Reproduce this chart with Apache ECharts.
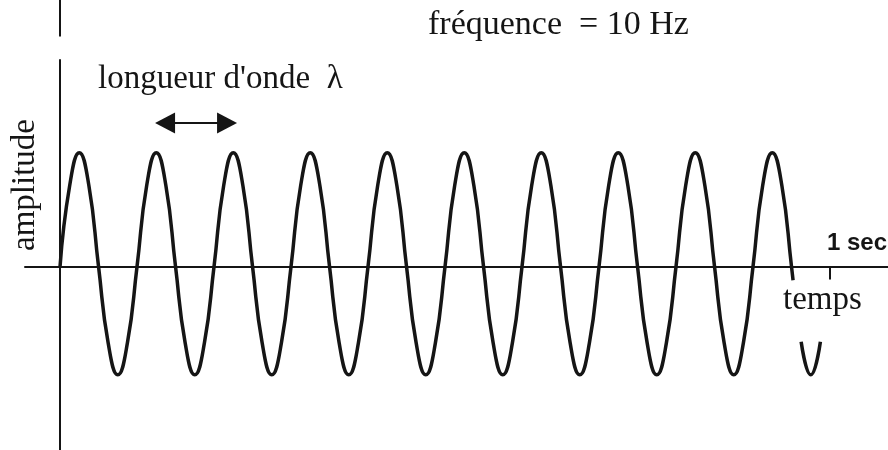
<!DOCTYPE html>
<html>
<head>
<meta charset="utf-8">
<script src="https://cdn.jsdelivr.net/npm/echarts@6/dist/echarts.min.js"></script>
<style>
  html, body { margin: 0; padding: 0; background: #fff; }
  #chart_wave { width: 888px; height: 450px; }
</style>
</head>
<body>
<div id="chart_wave"></div>
<script>
// temps (s), every 1/8 period (10 Hz)
var waveTime = [
  0, 0.0125, 0.025, 0.0375, 0.05, 0.0625, 0.075, 0.0875,
  0.1, 0.1125, 0.125, 0.1375, 0.15, 0.1625, 0.175, 0.1875,
  0.2, 0.2125, 0.225, 0.2375, 0.25, 0.2625, 0.275, 0.2875,
  0.3, 0.3125, 0.325, 0.3375, 0.35, 0.3625, 0.375, 0.3875,
  0.4, 0.4125, 0.425, 0.4375, 0.45, 0.4625, 0.475, 0.4875,
  0.5, 0.5125, 0.525, 0.5375, 0.55, 0.5625, 0.575, 0.5875,
  0.6, 0.6125, 0.625, 0.6375, 0.65, 0.6625, 0.675, 0.6875,
  0.7, 0.7125, 0.725, 0.7375, 0.75, 0.7625, 0.775, 0.7875,
  0.8, 0.8125, 0.825, 0.8375, 0.85, 0.8625, 0.875, 0.8875,
  0.9, 0.9125, 0.925, 0.9375, 0.95, 0.952
];
// amplitude at those times
var waveAmp = [
  0, 0.71, 1, 0.71, 0, -0.67, -0.95, -0.67,
  0, 0.71, 1, 0.71, 0, -0.67, -0.95, -0.67,
  0, 0.71, 1, 0.71, 0, -0.67, -0.95, -0.67,
  0, 0.71, 1, 0.71, 0, -0.67, -0.95, -0.67,
  0, 0.71, 1, 0.71, 0, -0.67, -0.95, -0.67,
  0, 0.71, 1, 0.71, 0, -0.67, -0.95, -0.67,
  0, 0.71, 1, 0.71, 0, -0.67, -0.95, -0.67,
  0, 0.71, 1, 0.71, 0, -0.67, -0.95, -0.67,
  0, 0.71, 1, 0.71, 0, -0.67, -0.95, -0.67,
  0, 0.71, 1, 0.71, 0, -0.12
];
// bottom of the last trough, the part left below "temps"
var tailTime = [0.9625, 0.975, 0.9875];
var tailAmp = [-0.66, -0.95, -0.66];
// wavelength arrow: from one crest to the next
var arrowTime = [0.1364, 0.2169];
var arrowAmp = 1.261;
var xTicks = [1];

var ink = '#151515';
var serif = '"Liberation Serif", "DejaVu Serif", serif';

function pairs(xs, ys) {
  var out = [];
  for (var i = 0; i < xs.length; i++) out.push([xs[i], ys[i]]);
  return out;
}

var myChart = echarts.init(document.getElementById('chart_wave'));
var option = {
  animation: false,
  backgroundColor: '#fff',
  grid: { left: 25, right: 0, top: 0, bottom: 0, containLabel: false, outerBoundsMode: 'none' },
  xAxis: {
    type: 'value',
    min: -0.0455,
    max: 1.0753,
    axisLine: { show: true, onZero: true, lineStyle: { color: ink, width: 2 } },
    axisTick: { show: true, customValues: xTicks, length: 13, lineStyle: { color: ink, width: 2 } },
    axisLabel: { show: false },
    splitLine: { show: false }
  },
  yAxis: {
    type: 'value',
    min: -1.61,
    max: 2.34,
    axisLine: { show: false },
    axisTick: { show: false },
    axisLabel: { show: false },
    splitLine: { show: false }
  },
  graphic: [
    { type: 'text', left: 428, top: 8, style: { text: 'fréquence  = 10 Hz', font: '34px ' + serif, fill: ink } },
    { type: 'text', left: 98, top: 63, style: { text: "longueur d'onde  λ", font: '33px ' + serif, fill: ink } },
    { type: 'text', left: 783, top: 284, style: { text: 'temps', font: '33px ' + serif, fill: ink } },
    { type: 'text', left: 827, top: 231, style: { text: '1 sec', font: 'bold 24px "Liberation Sans", Arial, sans-serif', fill: ink } },
    {
      type: 'text', x: 25, y: 185, rotation: Math.PI / 2,
      style: { text: 'amplitude', font: '33px ' + serif, fill: ink, align: 'center', verticalAlign: 'middle' }
    }
  ],
  series: [
    {
      name: 'onde',
      type: 'line',
      smooth: 0.5,
      showSymbol: false,
      clip: false,
      lineStyle: { color: ink, width: 3.5 },
      data: pairs(waveTime, waveAmp),
      markLine: {
        silent: true,
        symbol: ['none', 'none'],
        label: { show: false },
        lineStyle: { color: ink, width: 2, type: 'solid' },
        data: [
          [{ coord: [0, 2.34] }, { coord: [0, 2.02] }],
          [{ coord: [0, 1.82] }, { coord: [0, -1.61] }]
        ]
      }
    },
    {
      name: 'fin',
      type: 'line',
      smooth: true,
      showSymbol: false,
      lineStyle: { color: ink, width: 3.5 },
      data: pairs(tailTime, tailAmp),
      markLine: {
        silent: true,
        symbol: ['triangle', 'triangle'],
        symbolSize: [21, 20],
        label: { show: false },
        lineStyle: { color: ink, width: 2, type: 'solid' },
        itemStyle: { color: ink },
        data: [
          [{ coord: [arrowTime[0], arrowAmp] }, { coord: [arrowTime[1], arrowAmp] }]
        ]
      }
    }
  ]
};
myChart.setOption(option);
</script>
</body>
</html>
